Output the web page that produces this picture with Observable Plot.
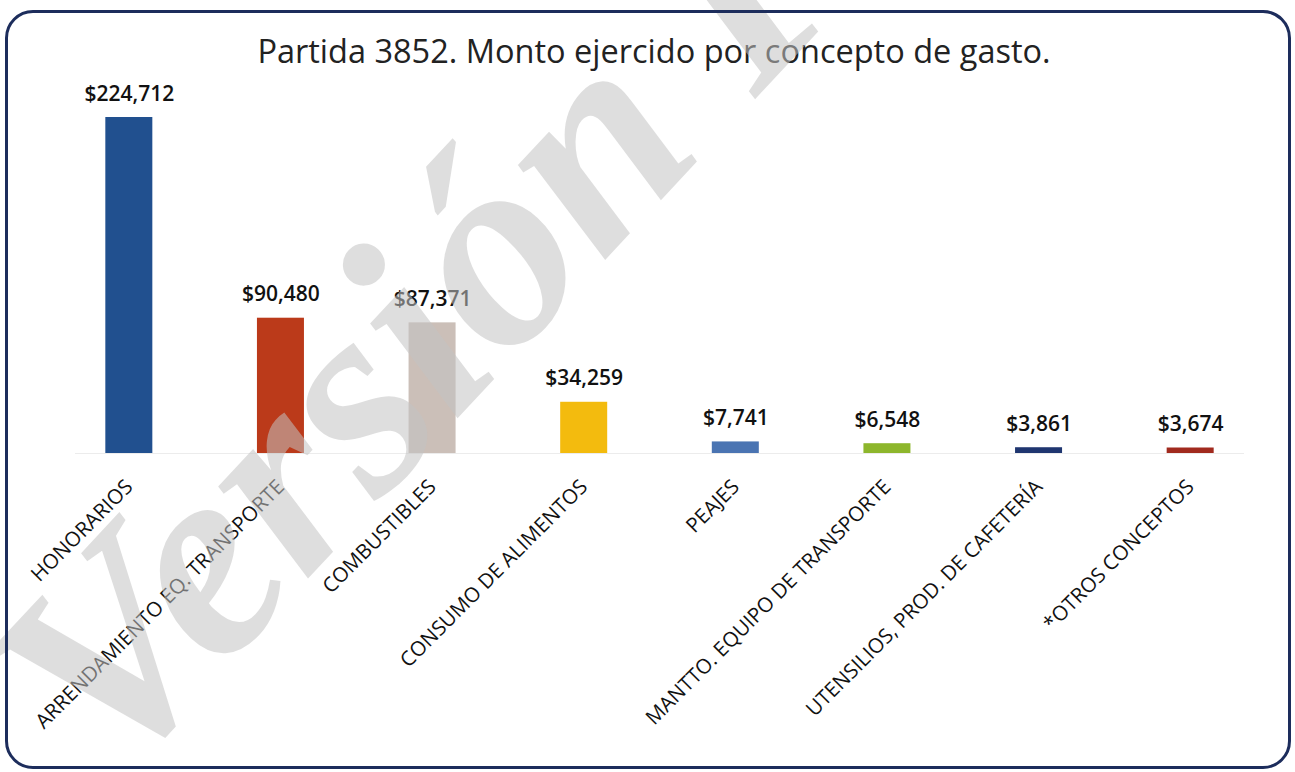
<!DOCTYPE html>
<html>
<head>
<meta charset="utf-8">
<script src="https://cdn.jsdelivr.net/npm/d3@7"></script>
<script src="https://cdn.jsdelivr.net/npm/@observablehq/plot@0.6"></script>
<style>
  html, body { margin: 0; padding: 0; background: #ffffff; }
  #wrap { position: relative; width: 1295px; height: 772px; overflow: hidden; background: #fff; }
  #frame { position: absolute; left: 5px; top: 10px; width: 1280px; height: 753px;
           border: 3px solid #1d2d5c; border-radius: 28px; pointer-events: none; }
  #wm { position: absolute; left: -58px; top: 628px; transform-origin: 0 0; transform: rotate(-47deg);
        font-family: "Liberation Serif", serif; font-weight: bold; font-style: italic;
        font-size: 280px; color: rgba(195,195,195,0.55); white-space: nowrap; pointer-events: none; line-height: 1; }
</style>
</head>
<body>
<div id="wrap">
  <div id="chart"></div>
  <div id="wm">Versión Pública</div>
  <div id="frame"></div>
</div>
<script>
const title = "Partida 3852. Monto ejercido por concepto de gasto.";
const categories = [
  "HONORARIOS",
  "ARRENDAMIENTO EQ. TRANSPORTE",
  "COMBUSTIBLES",
  "CONSUMO DE ALIMENTOS",
  "PEAJES",
  "MANTTO. EQUIPO DE TRANSPORTE",
  "UTENSILIOS, PROD. DE CAFETERÍA",
  "*OTROS CONCEPTOS"
];
const values = [224712, 90480, 87371, 34259, 7741, 6548, 3861, 3674];
const colors = ["#21508f", "#bb3a1a", "#cbbfb8", "#f3bb0e", "#4a74b2", "#8db62c", "#1f3670", "#a12a1e"];

const data = categories.map((c, i) => ({category: c, value: values[i], color: colors[i]}));
const fmt = v => "$" + d3.format(",")(v);

const chart = Plot.plot({
  width: 1295,
  height: 772,
  marginTop: 117,
  marginBottom: 319,
  marginLeft: 75,
  marginRight: 51,
  style: {fontFamily: "'Open Sans', sans-serif", background: "transparent", color: "#111"},
  x: {domain: categories, paddingInner: 0.69, paddingOuter: 0.2, round: false, label: null,
      tickRotate: -45, tickSize: 0, tickPadding: 30},
  y: {domain: [0, 224712], axis: null},
  marks: [
    Plot.barY(data, {x: "category", y: "value", fill: "color"}),
    Plot.ruleY([0], {stroke: "#ececec", strokeWidth: 1}),
    Plot.text(data, {x: "category", y: "value", text: d => fmt(d.value), lineAnchor: "bottom",
                     dy: -17, fontSize: 21, fontWeight: 600, fill: "#111"}),
    Plot.text([title], {frameAnchor: "top", dx: -6, dy: -78, lineAnchor: "top", fontSize: 32.5, fill: "#222"})
  ]
});
chart.querySelectorAll("g[aria-label='x-axis tick label']").forEach(el => el.setAttribute("font-size", 20.5));
document.getElementById("chart").appendChild(chart);
</script>
</body>
</html>
